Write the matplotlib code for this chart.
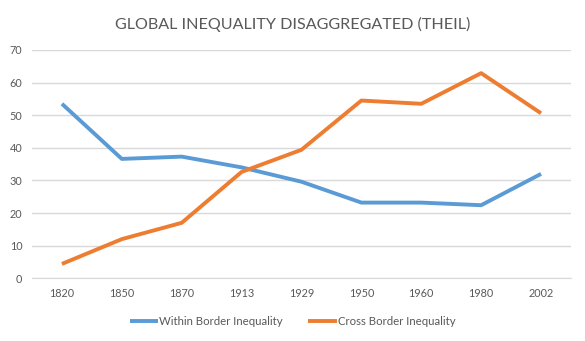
import matplotlib.pyplot as plt

years = ["1820", "1850", "1870", "1913", "1929", "1950", "1960", "1980", "2002"]
within_border = [53.5, 36.6, 37.3, 34.0, 29.6, 23.2, 23.2, 22.4, 32.0]
cross_border = [4.4, 12.0, 17.0, 32.6, 39.4, 54.5, 53.5, 62.9, 50.6]

plt.rcParams['font.family'] = ['Lato', 'DejaVu Sans']
text_color = '#595959'

fig = plt.figure(figsize=(5.85, 3.41), dpi=100)
ax = fig.add_axes([0.0547, 0.184, 0.9213, 0.6694])

x = list(range(len(years)))
ax.plot(x, within_border, color='#5B9BD5', linewidth=2.8, label='Within Border Inequality',
        solid_joinstyle='round', solid_capstyle='butt')
ax.plot(x, cross_border, color='#ED7D31', linewidth=2.8, label='Cross Border Inequality',
        solid_joinstyle='round', solid_capstyle='butt')

ax.set_xlim(-0.5, len(years) - 0.5)
ax.set_ylim(0, 70)
ax.set_yticks(range(0, 71, 10))
ax.set_xticks(x)
ax.set_xticklabels(years)
ax.grid(axis='y', color='#D9D9D9', linewidth=1)
ax.set_axisbelow(True)
for s in ['top', 'right', 'left']:
    ax.spines[s].set_visible(False)
ax.spines['bottom'].set_color('#D9D9D9')
ax.tick_params(axis='both', length=0, labelsize=7.8, colors=text_color, pad=7)

fig.text(0.5, 0.927, 'GLOBAL INEQUALITY DISAGGREGATED (THEIL)', ha='center', va='center',
         fontsize=11.6, color=text_color)
fig.legend(loc='center', bbox_to_anchor=(0.5, 0.056), ncol=2, frameon=False,
           fontsize=8.2, labelcolor=text_color, handlelength=2.5, handletextpad=0.1,
           columnspacing=2.2)

fig.savefig('out.png', dpi=100)
